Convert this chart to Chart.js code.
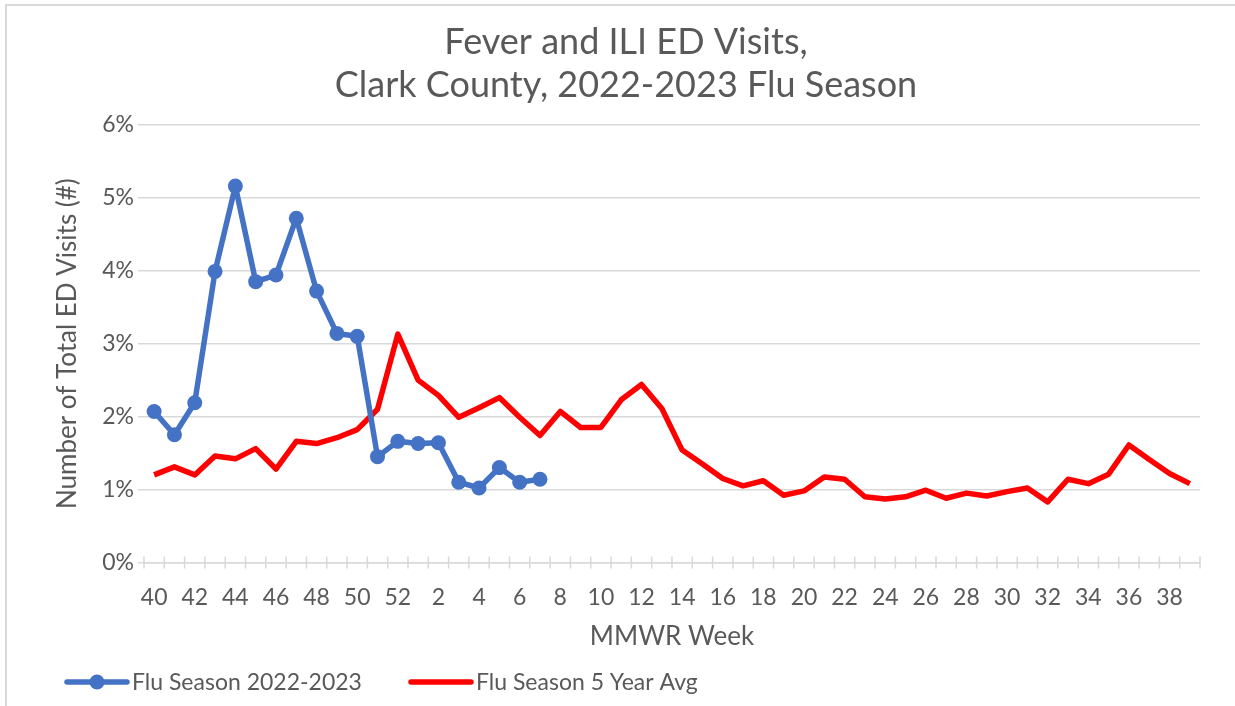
<!DOCTYPE html>
<html>
<head>
<meta charset="utf-8">
<script src="https://cdn.jsdelivr.net/npm/chart.js@4/dist/chart.umd.min.js"></script>
<style>
html,body{margin:0;padding:0;background:#fff;}
#wrap{width:1235px;height:706px;position:relative;}
</style>
</head>
<body>
<div id="wrap"><canvas id="c" width="1235" height="706"></canvas></div>
<script>
const weeks = [40,41,42,43,44,45,46,47,48,49,50,51,52,1,2,3,4,5,6,7,8,9,10,11,12,13,14,15,16,17,18,19,20,21,22,23,24,25,26,27,28,29,30,31,32,33,34,35,36,37,38,39];
const season2223 = [2.07,1.75,2.19,3.99,5.16,3.85,3.94,4.72,3.72,3.14,3.10,1.45,1.66,1.63,1.64,1.10,1.02,1.30,1.10,1.14];
const fiveYearAvg = [1.20,1.31,1.20,1.46,1.42,1.56,1.28,1.66,1.63,1.71,1.82,2.10,3.13,2.50,2.29,1.99,2.12,2.26,1.99,1.74,2.07,1.85,1.85,2.23,2.44,2.11,1.54,1.35,1.15,1.05,1.12,0.92,0.98,1.17,1.14,0.90,0.87,0.90,0.99,0.88,0.95,0.91,0.97,1.02,0.83,1.14,1.08,1.21,1.61,1.41,1.22,1.08];
const yTicks = [0,1,2,3,4,5,6];
const seriesNames = ['Flu Season 2022-2023','Flu Season 5 Year Avg'];
const titleLines = ['Fever and ILI ED Visits,','Clark County, 2022-2023 Flu Season'];

const FONT = 'Lato, "Open Sans", sans-serif';
const GREY = '#595959';
const BLUE = '#4472C4';
const RED = '#FF0000';
const GRID = '#d9d9d9';

const framePlugin = {
  id: 'frame',
  beforeDraw(chart){
    const ctx = chart.ctx;
    ctx.save();
    ctx.strokeStyle = GRID;
    ctx.lineWidth = 2;
    ctx.beginPath();
    ctx.moveTo(6, 706); ctx.lineTo(6, 5); ctx.lineTo(1235, 5);
    ctx.stroke();
    ctx.restore();
  }
};

const tickPlugin = {
  id: 'crossTicks',
  afterDraw(chart){
    const xs = chart.scales.x, ys = chart.scales.y;
    const ctx = chart.ctx;
    const y0 = ys.getPixelForValue(0);
    const half = (xs.getPixelForValue(1) - xs.getPixelForValue(0)) / 2;
    ctx.save();
    ctx.strokeStyle = GRID;
    ctx.lineWidth = 1.5;
    ctx.beginPath();
    for (let i = 0; i <= weeks.length; i++) {
      const x = xs.getPixelForValue(i) - half;
      ctx.moveTo(x, y0 - 6); ctx.lineTo(x, y0 + 6);
    }
    ctx.stroke();
    ctx.restore();
  }
};

const legendPlugin = {
  id: 'customLegend',
  afterDraw(chart){
    const ctx = chart.ctx;
    const y = 682;
    ctx.save();
    ctx.font = '23px ' + FONT;
    ctx.textBaseline = 'middle';
    // item 1
    let x = 67;
    ctx.strokeStyle = BLUE; ctx.lineWidth = 5.5; ctx.lineCap = 'round';
    ctx.beginPath(); ctx.moveTo(x, y); ctx.lineTo(x + 60, y); ctx.stroke();
    ctx.fillStyle = BLUE; ctx.beginPath(); ctx.arc(x + 30, y, 7.5, 0, Math.PI * 2); ctx.fill();
    ctx.fillStyle = GREY;
    ctx.fillText(seriesNames[0], x + 65, y + 1);
    // item 2
    x = 411;
    ctx.strokeStyle = RED;
    ctx.beginPath(); ctx.moveTo(x, y); ctx.lineTo(x + 60, y); ctx.stroke();
    ctx.fillText(seriesNames[1], x + 65, y + 1);
    ctx.restore();
  }
};

new Chart(document.getElementById('c'), {
  type: 'line',
  data: {
    labels: weeks.map(String),
    datasets: [
      {
        label: seriesNames[0],
        data: season2223,
        borderColor: BLUE,
        backgroundColor: BLUE,
        borderWidth: 5.5,
        pointRadius: 7.5,
        pointHoverRadius: 7.5,
        pointBackgroundColor: BLUE,
        pointBorderWidth: 0,
        tension: 0,
        borderJoinStyle: 'round',
        order: 1
      },
      {
        label: seriesNames[1],
        data: fiveYearAvg,
        borderColor: RED,
        backgroundColor: RED,
        borderWidth: 5.5,
        pointRadius: 0,
        pointHoverRadius: 0,
        tension: 0,
        borderJoinStyle: 'round',
        order: 2
      }
    ]
  },
  options: {
    responsive: false,
    animation: false,
    devicePixelRatio: 1,
    layout: { padding: { left: 52, right: 35, top: 8, bottom: 56 } },
    plugins: {
      legend: { display: false },
      tooltip: { enabled: false },
      title: {
        display: true,
        text: titleLines,
        color: GREY,
        font: { family: FONT, size: 36, weight: 'normal', lineHeight: 1.22 },
        padding: { top: 12, bottom: 17 }
      }
    },
    scales: {
      x: {
        offset: true,
        grid: { display: false, offset: true },
        border: { display: true, color: GRID, width: 1.5 },
        ticks: {
          autoSkip: false,
          maxRotation: 0,
          color: GREY,
          font: { family: FONT, size: 23 },
          padding: 13,
          callback: function(v, i){ return i % 2 === 0 ? weeks[i] : ''; }
        },
        title: {
          display: true,
          text: 'MMWR Week',
          color: GREY,
          font: { family: FONT, size: 26, lineHeight: 1.0 },
          padding: { top: 0, bottom: 0 }
        }
      },
      y: {
        min: 0,
        max: 6,
        afterBuildTicks: function(s){ s.ticks = yTicks.map(v => ({ value: v })); },
        grid: { color: GRID, lineWidth: 1.5, drawTicks: true, tickLength: 6, tickColor: GRID },
        border: { display: false },
        ticks: {
          color: GREY,
          font: { family: FONT, size: 23 },
          padding: 4,
          callback: function(v){ return v + '%'; }
        },
        title: {
          display: true,
          text: 'Number of Total ED Visits (#)',
          color: GREY,
          font: { family: FONT, size: 26 },
          padding: { top: 0, bottom: 15 }
        }
      }
    }
  },
  plugins: [framePlugin, tickPlugin, legendPlugin]
});
</script>
</body>
</html>
